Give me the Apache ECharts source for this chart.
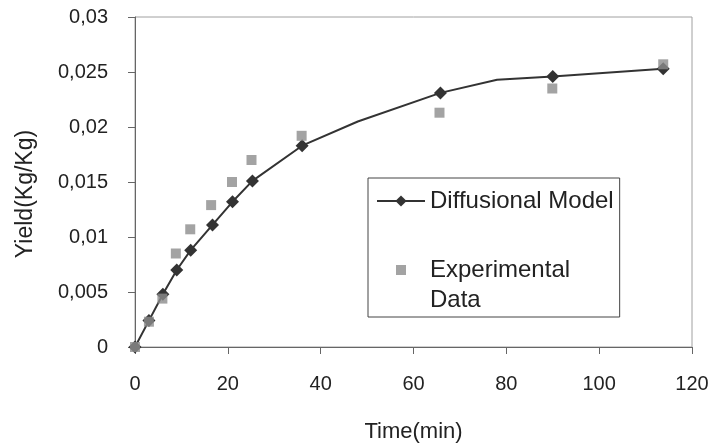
<!DOCTYPE html>
<html>
<head>
<meta charset="utf-8">
<script src="https://cdn.jsdelivr.net/npm/echarts@6/dist/echarts.min.js"></script>
<style>
  html, body { margin: 0; padding: 0; background: #fff; }
  #chart { width: 715px; height: 448px; }
</style>
</head>
<body>
<div id="chart"></div>
<script>
// model curve (diamonds only on the marked points)
const timeModel = [0, 3, 6, 9, 12, 16.7, 21, 25.3, 36, 48, 65.8, 78, 90, 113.8];
const yieldModel = [0, 0.0024, 0.0048, 0.0070, 0.0088, 0.0111, 0.0132, 0.0151, 0.0183, 0.0205, 0.0231, 0.0243, 0.0246, 0.0253];
const markedModel = [1, 1, 1, 1, 1, 1, 1, 1, 1, 0, 1, 0, 1, 1];

// experimental points
const timeExp = [0, 3, 5.9, 8.8, 11.9, 16.4, 20.9, 25.1, 35.9, 65.6, 89.9, 113.8];
const yieldExp = [0, 0.0023, 0.0044, 0.0085, 0.0107, 0.0129, 0.0150, 0.0170, 0.0192, 0.0213, 0.0235, 0.0257];

const font = "'Liberation Sans', Arial, sans-serif";

const chart = echarts.init(document.getElementById('chart'));

const modelData = timeModel.map((t, i) => ({
    value: [t, yieldModel[i]],
    symbol: markedModel[i] ? 'diamond' : 'none'
}));
const expData = timeExp.map((t, i) => [t, yieldExp[i]]);

chart.setOption({
    animation: false,
    grid: {
        left: 135, right: 23, top: 17, bottom: 100,
        show: true, borderColor: '#a0a0a0', borderWidth: 1
    },
    legend: {
        orient: 'vertical',
        left: 368, top: 178,
        padding: [8, 6, 2, 8],
        itemGap: 9,
        itemWidth: 48, itemHeight: 14,
        borderColor: '#444', borderWidth: 1,
        data: [
            { name: 'Diffusional Model' },
            // small square, padded path so it stays ~10px inside the 14px icon box
            { name: 'Experimental Data', icon: 'path://M-2,-2L-2,-2M12,12L12,12M0,0h10v10h-10z' }
        ],
        // empty first line pushes "Experimental" level with the icon
        formatter: (name) => name === 'Experimental Data' ? '{p| }\n{t|Experimental}\n{t|Data}' : name,
        textStyle: {
            fontFamily: font, fontSize: 24, color: '#222', lineHeight: 30,
            rich: {
                p: { fontSize: 24, lineHeight: 30 },
                t: { fontFamily: font, fontSize: 24, color: '#222', lineHeight: 30 }
            }
        }
    },
    xAxis: {
        type: 'value', min: 0, max: 120, interval: 20,
        name: 'Time(min)', nameLocation: 'middle', nameGap: 74,
        nameTextStyle: { fontFamily: font, fontSize: 22, color: '#222' },
        axisLine: { lineStyle: { color: '#666', width: 1 } },
        axisTick: { show: true, length: 7, lineStyle: { color: '#666' } },
        axisLabel: { fontFamily: font, fontSize: 20, color: '#222', margin: 27 },
        splitLine: { show: false }
    },
    yAxis: {
        type: 'value', min: 0, max: 0.03, interval: 0.005,
        name: 'Yield(Kg/Kg)', nameLocation: 'middle', nameGap: 98,
        nameTextStyle: { fontFamily: font, fontSize: 23, color: '#222', padding: [0, 24, 0, 0] },
        axisLine: { show: true, lineStyle: { color: '#666', width: 1 } },
        axisTick: { show: true, length: 7, lineStyle: { color: '#666' } },
        axisLabel: {
            fontFamily: font, fontSize: 20, color: '#222', margin: 27,
            formatter: (v) => String(+v.toFixed(3)).replace('.', ',')
        },
        splitLine: { show: false }
    },
    series: [
        {
            name: 'Diffusional Model',
            type: 'line',
            data: modelData,
            symbol: 'diamond',
            symbolSize: 13,
            showAllSymbol: true,
            lineStyle: { color: '#333', width: 2 },
            itemStyle: { color: '#333' },
            z: 2
        },
        {
            name: 'Experimental Data',
            type: 'scatter',
            data: expData,
            symbol: 'rect',
            symbolSize: 10,
            itemStyle: { color: '#8c8c8c' },
            z: 3
        }
    ]
});
</script>
</body>
</html>
